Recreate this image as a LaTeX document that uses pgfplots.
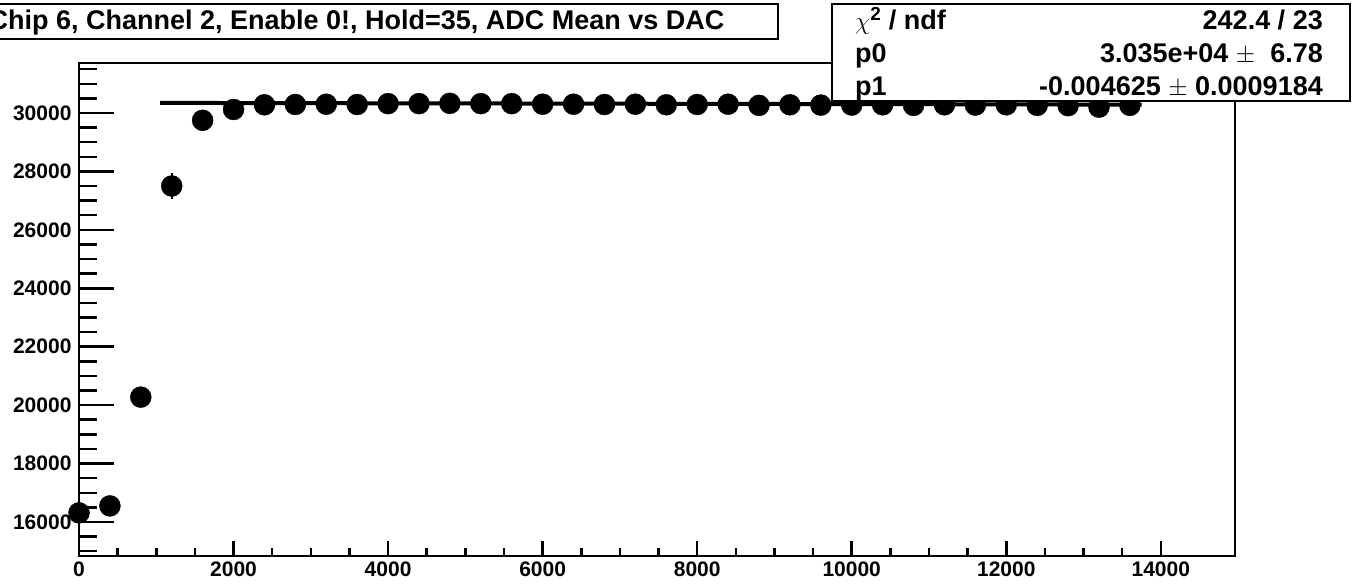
\documentclass[border=0pt]{standalone}
\usepackage{fontspec}
\setmainfont{Liberation Sans}
\usepackage{pgfplots}
\pgfplotsset{compat=1.18}
\begin{document}
\begin{tikzpicture}[x=1pt,y=1pt]
\useasboundingbox (0,0) rectangle (1354,586);
\begin{scope}
\clip (0,0) rectangle (1354,586);
\begin{axis}[
  at={(79pt,30pt)}, anchor=south west,
  scale only axis, width=1156pt, height=493pt,
  xmin=0, xmax=14960, ymin=14836, ymax=31711,
  axis line style={line width=2pt},
  xtick distance=2000, ytick distance=2000,
  minor x tick num=3, minor y tick num=3,
  tick align=inside, xtick pos=bottom, ytick pos=left,
  tick style={line width=2.5pt, black},
  x tick style={/pgfplots/major tick length=15pt, /pgfplots/minor tick length=8pt},
  y tick style={/pgfplots/major tick length=35pt, /pgfplots/minor tick length=18pt},
  ticklabel style={font=\fontsize{21}{21}\selectfont\bfseries},
  /pgf/number format/assume math mode=true,
  scaled ticks=false, /pgf/number format/1000 sep={},
  xticklabel style={yshift=-2pt}, yticklabel style={xshift=-4pt},
  clip=false,
]
\addplot[black, line width=4pt] coordinates {(1050,30345.1) (13750,30286.4)};
\addplot[only marks, mark=*, mark size=10.5pt, black,
  error bars/.cd, y dir=both, y explicit, error bar style={line width=2pt}, error mark=none]
  table[x=x, y=y, y error=e] {
x y e
0 16312 0
400 16551 0
800 20274 0
1200 27500 450
1600 29750 0
2000 30120 0
2400 30280 0
2800 30290 0
3200 30300 0
3600 30290 0
4000 30320 0
4400 30320 0
4800 30330 0
5200 30320 0
5600 30320 0
6000 30300 0
6400 30300 0
6800 30290 0
7200 30300 0
7600 30280 0
8000 30290 0
8400 30300 0
8800 30260 0
9200 30280 0
9600 30270 0
10000 30270 0
10400 30280 0
10800 30260 0
11200 30280 0
11600 30270 0
12000 30280 0
12400 30260 0
12800 30250 0
13200 30200 0
13600 30260 0
};
\end{axis}
\draw[line width=2pt, fill=white] (-60,547) rectangle (778,582);
\node[font=\fontsize{27}{27}\selectfont\bfseries, anchor=base east] at (728,556) {Chip 6, Channel 2, Enable 0!, Hold=35, ADC Mean vs DAC};
\draw[line width=1.6pt, fill=white] (832,485) rectangle (1350,582);
\begin{scope}[font=\fontsize{27}{27}\selectfont\bfseries]
\node[anchor=base west, inner sep=0pt] at (855,556) {$\chi^{\mathbf{2}}$ / ndf};
\node[anchor=base west, inner sep=0pt] at (855,523) {p0};
\node[anchor=base west, inner sep=0pt] at (855,490) {p1};
\node[anchor=base east, inner sep=0pt] at (1323,556) {242.4 / 23};
\node[anchor=base east, inner sep=0pt] at (1323,523) {3.035e+04 {\mdseries$\pm$}\ \ 6.78};
\node[anchor=base east, inner sep=0pt] at (1323,490) {-0.004625 {\mdseries$\pm$} 0.0009184};
\end{scope}
\end{scope}
\end{tikzpicture}
\end{document}
